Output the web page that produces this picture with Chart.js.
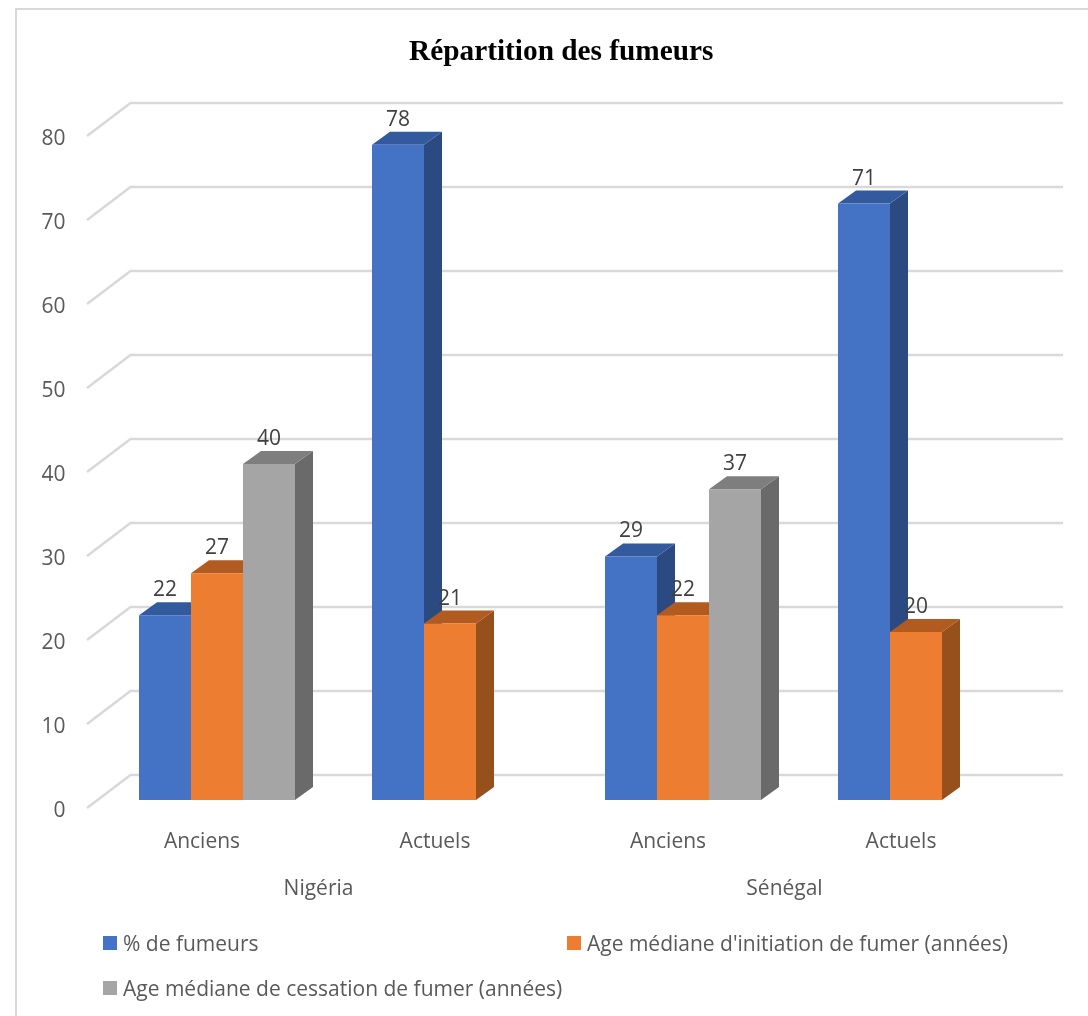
<!DOCTYPE html>
<html lang="fr">
<head>
<meta charset="utf-8">
<title>Répartition des fumeurs</title>
<script src="https://cdn.jsdelivr.net/npm/chart.js@4"></script>
<style>
    html, body { margin: 0; padding: 0; background: #fff; }
    #wrap { position: relative; width: 1088px; height: 1016px; overflow: hidden; }
    #frame { position: absolute; left: 15px; top: 8px; width: 1080px; height: 1030px; border: 2px solid #d9d9d9; }
    canvas { position: absolute; left: 0; top: 0; }
    .legend-item {
        position: absolute; font: 21px "Open Sans", sans-serif; color: #595959;
        white-space: nowrap; line-height: 24px; height: 24px;
    }
    .legend-item i { position: absolute; left: -20px; top: 5px; width: 14px; height: 14px; }
</style>
</head>
<body>
<div id="wrap">
    <div id="frame"></div>
    <canvas id="chart" width="1088" height="1016"></canvas>
    <div id="legend"></div>
</div>
<script>
const chartTitle = 'Répartition des fumeurs';
const categories = ['Anciens', 'Actuels', 'Anciens', 'Actuels'];
const countries = ['Nigéria', 'Sénégal'];
const yTicks = [0, 10, 20, 30, 40, 50, 60, 70, 80];

const smokers = [22, 78, 29, 71];
const startAge = [27, 21, 22, 20];
const quitAge = [40, null, 37, null];

const seriesNames = ['% de fumeurs', "Age médiane d'initiation de fumer (années)", 'Age médiane de cessation de fumer (années)'];
const frontColors = ['#4472C4', '#ED7D31', '#A5A5A5'];
const topColors = ['#345A9E', '#B25B20', '#7E7E7E'];
const sideColors = ['#2C4A82', '#96501C', '#6A6A6A'];

// depth of the fake 3D
const barDepthX = 18;
const barDepthY = 13;
const wallX = 30;
const wallY = 25;
const floorFront = 8;

const gridRight = 1063;
const gridLeft = 87;
const tickFont = { family: '"Open Sans", sans-serif', size: 21 };

function poly(ctx, color, pts) {
    ctx.fillStyle = color;
    ctx.beginPath();
    pts.forEach((p, i) => i ? ctx.lineTo(p[0], p[1]) : ctx.moveTo(p[0], p[1]));
    ctx.closePath();
    ctx.fill();
}

const fake3d = {
    id: 'fake3d',
    afterLayout(chart) {
        // title is centred on the whole image, not on the plot
        chart.titleBlock.left += 56;
    },
    beforeDatasetsDraw(chart) {
        const ctx = chart.ctx;
        const y = chart.scales.y;
        const backX = chart.chartArea.left + wallX;

        // grid on the walls
        ctx.save();
        ctx.strokeStyle = '#d9d9d9';
        ctx.lineWidth = 2.5;
        yTicks.forEach(v => {
            const py = y.getPixelForValue(v);
            ctx.beginPath();
            ctx.moveTo(gridLeft, py + floorFront);
            ctx.lineTo(backX, py - wallY);
            ctx.lineTo(gridRight, py - wallY);
            ctx.stroke();
        });

        // sides and tops, left to right so the next bar covers the previous side
        categories.forEach((c, i) => {
            chart.data.datasets.forEach((ds, d) => {
                if (ds.data[i] === null) return;
                const bar = chart.getDatasetMeta(d).data[i];
                const l = bar.x - bar.width / 2;
                const r = bar.x + bar.width / 2;
                poly(ctx, sideColors[d], [[r, bar.y], [r + barDepthX, bar.y - barDepthY], [r + barDepthX, bar.base - barDepthY], [r, bar.base]]);
                poly(ctx, topColors[d], [[l, bar.y], [l + barDepthX, bar.y - barDepthY], [r + barDepthX, bar.y - barDepthY], [r, bar.y]]);
            });
        });
        ctx.restore();
    },
    afterDatasetsDraw(chart) {
        const ctx = chart.ctx;
        ctx.save();
        ctx.font = '21px "Open Sans", sans-serif';
        ctx.fillStyle = '#404040';
        ctx.textAlign = 'center';
        ctx.textBaseline = 'middle';
        chart.data.datasets.forEach((ds, d) => {
            chart.getDatasetMeta(d).data.forEach((bar, i) => {
                if (ds.data[i] === null) return;
                ctx.fillText(ds.data[i], bar.x, bar.y - 25);
            });
        });
        ctx.restore();
    }
};

const chart = new Chart(document.getElementById('chart'), {
    type: 'bar',
    data: {
        labels: categories,
        datasets: [
            { label: seriesNames[0], data: smokers, backgroundColor: frontColors[0] },
            { label: seriesNames[1], data: startAge, backgroundColor: frontColors[1] },
            { label: seriesNames[2], data: quitAge, backgroundColor: frontColors[2] }
        ]
    },
    options: {
        responsive: false,
        animation: false,
        devicePixelRatio: 1,
        layout: { padding: { left: 34, right: 55.5, top: 0, bottom: 84 } },
        datasets: { bar: { barPercentage: 1, categoryPercentage: 156 / 233 } },
        plugins: {
            legend: { display: false },
            tooltip: { enabled: false },
            title: {
                display: true,
                text: chartTitle,
                color: '#000',
                font: { family: '"Liberation Serif", serif', size: 29.3, weight: 'bold' },
                padding: { top: 35, bottom: 57.84 }
            }
        },
        scales: {
            x: {
                grid: { display: false },
                border: { display: false },
                ticks: { color: '#595959', font: tickFont, padding: 21.5, labelOffset: -15, maxRotation: 0 },
                afterFit(s) { s.height = 66; }
            },
            xGroup: {
                type: 'category',
                labels: countries,
                position: 'bottom',
                offset: true,
                grid: { display: false },
                border: { display: false },
                ticks: { color: '#595959', font: tickFont, padding: 2.5, labelOffset: -15, maxRotation: 0 },
                afterFit(s) { s.height = 66; }
            },
            y: {
                min: 0,
                max: 80,
                grid: { display: false },
                border: { display: false },
                ticks: { stepSize: 10, color: '#595959', font: tickFont, padding: 27, labelOffset: 11 },
                afterFit(s) { s.width = 66.5; }
            }
        }
    },
    plugins: [fake3d]
});

// legend sits on two rows with its own column, built from the chart's datasets
const legendSpots = [[123, 931], [587, 931], [123, 976]];
chart.data.datasets.forEach((ds, d) => {
    const el = document.createElement('div');
    el.className = 'legend-item';
    el.style.left = legendSpots[d][0] + 'px';
    el.style.top = legendSpots[d][1] + 'px';
    el.innerHTML = '<i style="background:' + ds.backgroundColor + '"></i>';
    el.appendChild(document.createTextNode(ds.label));
    document.getElementById('legend').appendChild(el);
});
</script>
</body>
</html>
